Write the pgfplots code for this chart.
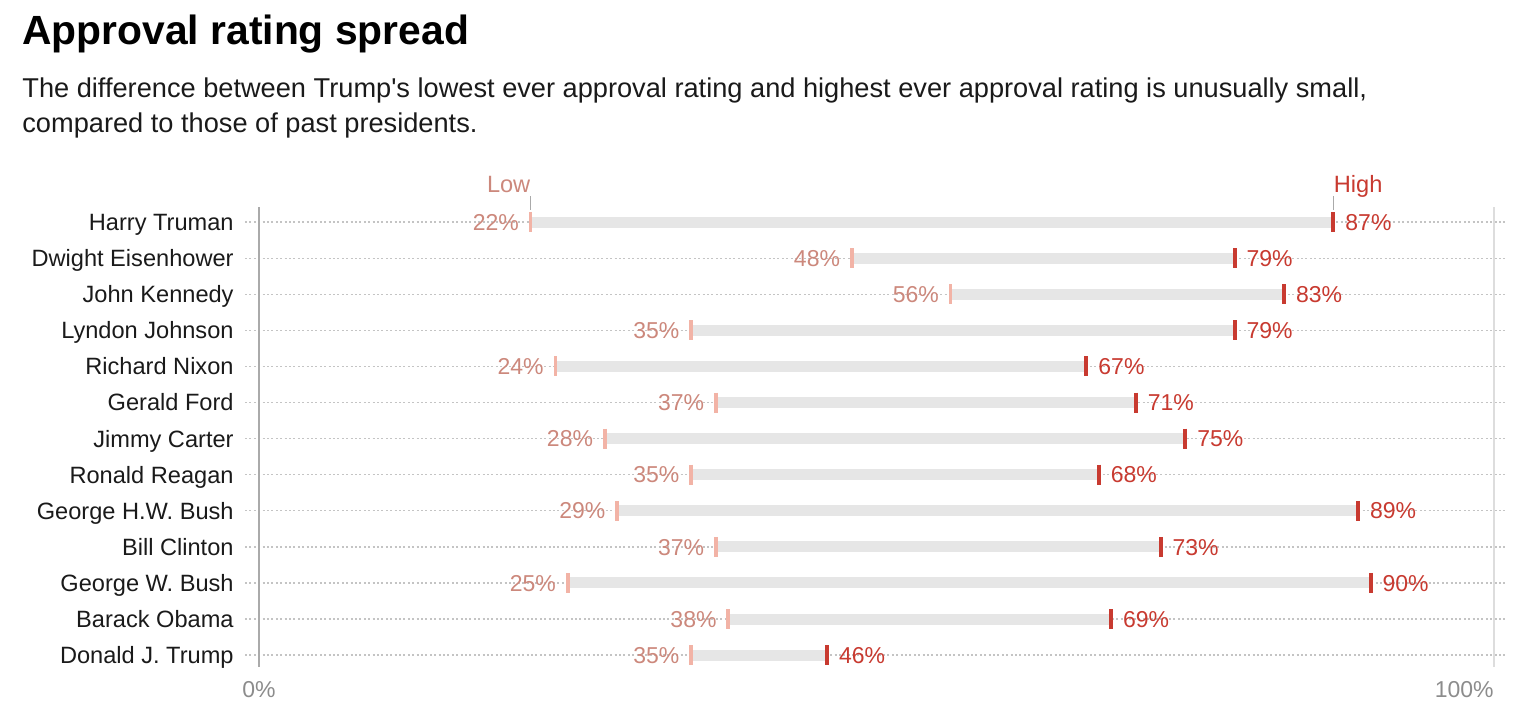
\documentclass[border=0pt]{standalone}
\usepackage{fontspec}
\setmainfont{Liberation Sans}
\usepackage{pgfplots}
\usepackage{pgfplotstable}
\pgfplotsset{compat=1.18}
\definecolor{barg}{HTML}{E6E6E6}
\definecolor{lowm}{HTML}{F2B3A6}
\definecolor{lowt}{HTML}{CC887C}
\definecolor{highc}{HTML}{C83A30}
\definecolor{tickg}{HTML}{8C8C8C}
\definecolor{gridg}{HTML}{C4C4C4}
\definecolor{axl}{HTML}{AAAAAA}
\definecolor{axr}{HTML}{DDDDDD}
\definecolor{txt}{HTML}{1A1A1A}
\pgfplotstableread{
idx low high
12 22 87
11 48 79
10 56 83
9 35 79
8 24 67
7 37 71
6 28 75
5 35 68
4 29 89
3 37 73
2 25 90
1 38 69
0 35 46
}\data
\begin{document}
\begin{tikzpicture}
\useasboundingbox (-129.5pt,-30.5pt) rectangle (639.5pt,333.5pt);
\begin{axis}[
  scale only axis, width=617.5pt, height=230pt,
  xmin=0, xmax=100, ymin=-0.33, ymax=12.42,
  clip=false,
  /pgf/number format/assume math mode=true,
  axis line style={draw=none},
  major tick length=0pt,
  tick style={draw=none},
  ytick={0,...,12},
  yticklabels={Donald J. Trump, Barack Obama, George W. Bush, Bill Clinton, George H.W. Bush, Ronald Reagan, Jimmy Carter, Gerald Ford, Richard Nixon, Lyndon Johnson, John Kennedy, Dwight Eisenhower, Harry Truman},
  yticklabel style={font=\fontsize{11.8}{13}\selectfont, anchor=east, inner sep=0pt, xshift=-12.5pt, text=txt, text height=8.45pt, text depth=0pt},
  xtick={0}, xticklabels={0\%},
  extra x ticks={100}, extra x tick labels={100\%},
  extra x tick style={xticklabel style={anchor=north east}},
  xticklabel style={font=\fontsize{11.5}{13}\selectfont, text=tickg, inner sep=0pt, yshift=-7pt},
]
\pgfplotsinvokeforeach{0,...,12}{
  \draw[gridg, line width=0.65pt, dash pattern=on 1pt off 1.2pt] (axis cs:-1.13,#1) -- (axis cs:101.1,#1);
}
\draw[axl, line width=0.8pt] (rel axis cs:0,0) -- (rel axis cs:0,1);
\draw[axr, line width=0.8pt] (rel axis cs:1,0) -- (rel axis cs:1,1);
\addplot[draw=none, mark=none, forget plot,
  error bars/.cd, x dir=plus, x explicit, error mark=none,
  error bar style={draw=barg, line width=5.5pt}]
  table[x=low, y=idx, x error expr=\thisrow{high}-\thisrow{low}] {\data};
\addplot[only marks, mark=|, mark size=5pt, mark options={line width=1.8pt, draw=lowm},
  point meta=\thisrow{low},
  nodes near coords={\pgfmathprintnumber{\pgfplotspointmeta}\%},
  every node near coord/.append style={anchor=east, inner sep=0pt, xshift=-5pt, text=lowt,
    font=\fontsize{11.5}{13}\selectfont, text height=8.2pt, text depth=0pt}]
  table[x=low, y=idx] {\data};
\addplot[only marks, mark=|, mark size=5pt, mark options={line width=2pt, draw=highc},
  point meta=\thisrow{high},
  nodes near coords={\pgfmathprintnumber{\pgfplotspointmeta}\%},
  every node near coord/.append style={anchor=west, inner sep=0pt, xshift=5pt, text=highc,
    font=\fontsize{11.5}{13}\selectfont, text height=8.2pt, text depth=0pt}]
  table[x=high, y=idx] {\data};
\draw[axl, line width=0.6pt] ([yshift=6pt]axis cs:22,12) -- ([yshift=13pt]axis cs:22,12);
\draw[axl, line width=0.6pt] ([yshift=6pt]axis cs:87,12) -- ([yshift=13pt]axis cs:87,12);
\node[anchor=base east, inner sep=0pt, text=lowt, font=\fontsize{11.8}{13}\selectfont] at ([yshift=15pt]axis cs:22,12) {Low};
\node[anchor=base west, inner sep=0pt, text=highc, font=\fontsize{11.8}{13}\selectfont] at ([yshift=15pt]axis cs:87,12) {High};
\end{axis}
\node[anchor=base west, inner sep=0pt, text=black, font=\bfseries\fontsize{20.4}{24}\selectfont] at (-118.5pt,311pt) {Approval rating spread};
\node[anchor=base west, inner sep=0pt, text=txt, font=\fontsize{13.6}{16}\selectfont] at (-118.5pt,284.5pt) {The difference between Trump\textquotesingle s lowest ever approval rating and highest ever approval rating is unusually small,};
\node[anchor=base west, inner sep=0pt, text=txt, font=\fontsize{13.6}{16}\selectfont] at (-118.5pt,267pt) {compared to those of past presidents.};
\end{tikzpicture}
\end{document}
